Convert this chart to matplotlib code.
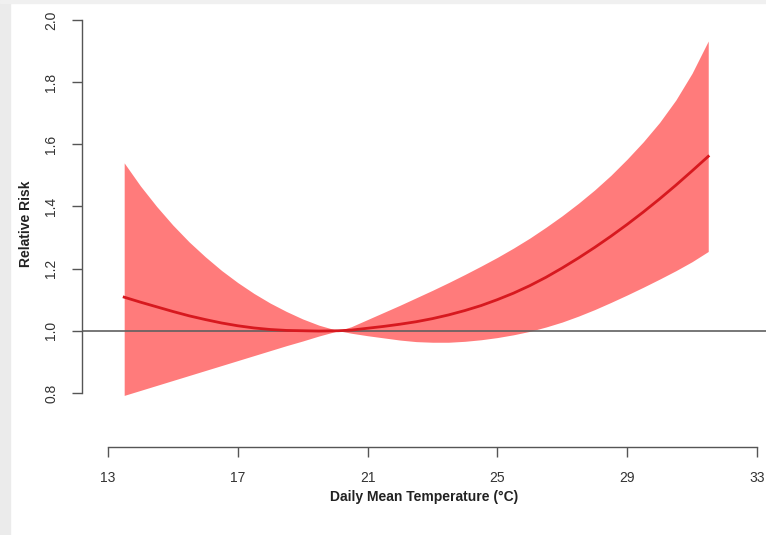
import matplotlib
matplotlib.use("Agg")
import matplotlib.pyplot as plt
from matplotlib.patches import Rectangle

# Exposure-response curve
temp = [13.5, 14, 14.5, 15, 15.5, 16, 16.5, 17, 17.5, 18, 18.5, 19, 19.5, 20.1,
        20.5, 21, 21.5, 22, 22.5, 23, 23.5, 24, 24.5, 25, 25.5, 26, 26.5, 27,
        27.5, 28, 28.5, 29, 29.5, 30, 30.5, 31, 31.5]
rr = [1.108, 1.092, 1.077, 1.062, 1.048, 1.036, 1.025, 1.016, 1.009, 1.004, 1.001, 1.000, 0.999, 1.000,
      1.002, 1.008, 1.014, 1.021, 1.029, 1.039, 1.051, 1.065, 1.081, 1.100, 1.121, 1.145, 1.172, 1.202,
      1.234, 1.268, 1.304, 1.342, 1.382, 1.424, 1.468, 1.514, 1.561]
rr_high = [1.540, 1.466, 1.400, 1.340, 1.286, 1.238, 1.194, 1.155, 1.120, 1.089, 1.062, 1.038, 1.018, 1.000,
           1.013, 1.036, 1.059, 1.082, 1.106, 1.130, 1.155, 1.181, 1.208, 1.236, 1.266, 1.298, 1.333, 1.370,
           1.410, 1.453, 1.500, 1.552, 1.608, 1.670, 1.742, 1.828, 1.932]
rr_low = [0.792, 0.808, 0.824, 0.840, 0.856, 0.872, 0.888, 0.904, 0.920, 0.936, 0.952, 0.967, 0.983, 1.000,
          0.992, 0.984, 0.977, 0.970, 0.965, 0.963, 0.963, 0.966, 0.971, 0.978, 0.987, 0.998, 1.012, 1.028,
          1.047, 1.068, 1.091, 1.115, 1.140, 1.166, 1.193, 1.222, 1.255]

x_ticks = [13, 17, 21, 25, 29, 33]
y_ticks = [0.8, 1.0, 1.2, 1.4, 1.6, 1.8, 2.0]

plt.rcParams['font.family'] = ['Liberation Sans', 'DejaVu Sans']

fig = plt.figure(figsize=(7.66, 5.35), dpi=100)
fig.patch.set_facecolor('white')

# faint grey screenshot edges
fig.patches.append(Rectangle((0, 0), 10 / 766, 1, transform=fig.transFigure,
                             color='#ebebeb', zorder=0))
fig.patches.append(Rectangle((0, 1 - 3 / 535), 1, 3 / 535, transform=fig.transFigure,
                             color='#f0f0f0', zorder=0))

ax = fig.add_axes([82 / 766, 1 - 447 / 535, 1 - 82 / 766, 447 / 535])
ax.patch.set_alpha(0)

ax.fill_between(temp, rr_low, rr_high, color='#ff7b7b', linewidth=0, zorder=1)
ax.plot(temp, rr, color='#d7191f', linewidth=2.0, zorder=3)
ax.axhline(1.0, color='#606060', linewidth=1.2, zorder=2)

ax.set_xlim(12.2, 33.28)
ax.set_ylim(0.626, 2.064)

for s in ['top', 'right']:
    ax.spines[s].set_visible(False)
for s in ['left', 'bottom']:
    ax.spines[s].set_color('#555555')
    ax.spines[s].set_linewidth(1.0)
ax.spines['left'].set_bounds(0.8, 2.0)
ax.spines['bottom'].set_bounds(13, 33)

ax.set_xticks(x_ticks)
ax.set_xticklabels([str(t) for t in x_ticks])
ax.set_yticks(y_ticks)
ax.set_yticklabels([f'{t:.1f}' for t in y_ticks], rotation=90, va='center')
ax.tick_params(axis='both', length=7, width=1.0, color='#555555',
               labelcolor='#333333', labelsize=10, pad=10)

ax.set_xlabel('Daily Mean Temperature (°C)', fontsize=10, fontweight='bold',
              color='#222222', labelpad=4)
ax.set_ylabel('Relative Risk', fontsize=10, fontweight='bold', color='#222222', labelpad=8)

fig.savefig('out.png', dpi=100)
